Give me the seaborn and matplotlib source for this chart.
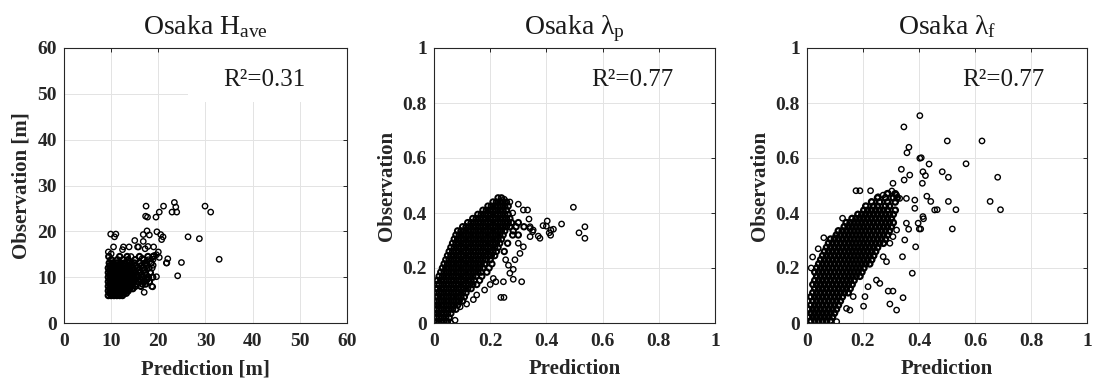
import numpy as np
import pandas as pd
import matplotlib
matplotlib.use("Agg")
import matplotlib.pyplot as plt
import seaborn as sns
from matplotlib.patches import Rectangle

# ---------------- data ----------------
titles = ["Osaka $\\mathregular{H_{ave}}$", "Osaka $\\mathregular{λ_p}$", "Osaka $\\mathregular{λ_f}$"]
r2_labels = ["R²=0.31", "R²=0.77", "R²=0.77"]
xlabels = ["Prediction [m]", "Prediction", "Prediction"]
ylabels = ["Observation [m]", "Observation", "Observation"]
h_ticks = [0, 10, 20, 30, 40, 50, 60]
h_ticklabels = ["0", "10", "20", "30", "40", "50", "60"]
l_ticks = [0, 0.2, 0.4, 0.6, 0.8, 1.0]
l_ticklabels = ["0", "0.2", "0.4", "0.6", "0.8", "1"]

# Panel 1 (H_ave): dense core, one observation level per row with its predictions
h_obs_levels = [6.0, 6.5, 7.0, 7.5, 8.0, 8.5, 9.0, 9.5, 10.0, 10.5, 11.0, 11.5, 12.0, 12.5, 13.1, 13.8, 14.5]
h_pred_rows = [
    [9.4, 10.0, 10.6, 11.2, 11.8, 12.4],
    [9.7, 10.3, 10.9, 11.5, 12.1, 12.7, 13.2],
    [9.4, 10.0, 10.6, 11.2, 11.8, 12.4, 13.0, 13.6],
    [9.7, 10.3, 10.9, 11.5, 12.1, 12.7, 13.3, 13.9, 14.6],
    [9.4, 10.0, 10.6, 11.2, 11.8, 12.4, 13.0, 13.6, 14.2, 15.1, 16.3],
    [9.7, 10.3, 10.9, 11.5, 12.1, 12.7, 13.3, 13.9, 14.5, 15.4, 16.6, 17.3],
    [9.4, 10.0, 10.6, 11.2, 11.8, 12.4, 13.0, 13.6, 14.2, 14.8, 15.8, 17.0, 18.1],
    [9.7, 10.3, 10.9, 11.5, 12.1, 12.7, 13.3, 13.9, 14.5, 15.2, 16.2, 17.6],
    [9.4, 10.0, 10.6, 11.2, 11.8, 12.4, 13.0, 13.6, 14.2, 14.8, 15.6, 16.7, 17.9, 18.8],
    [9.7, 10.3, 10.9, 11.5, 12.1, 12.7, 13.3, 13.9, 14.6, 15.5, 16.4, 17.4],
    [9.4, 10.0, 10.6, 11.2, 11.8, 12.4, 13.0, 13.6, 14.3, 15.1, 16.0, 17.2, 18.3],
    [9.7, 10.3, 10.9, 11.5, 12.1, 12.7, 13.3, 13.9, 14.8, 15.9, 17.0],
    [9.4, 10.0, 10.6, 11.2, 11.8, 12.4, 13.0, 13.7, 14.5, 15.6, 16.8, 18.0],
    [9.7, 10.3, 10.9, 11.5, 12.1, 12.8, 13.5, 14.3, 15.2, 16.4, 17.5],
    [9.6, 10.4, 11.2, 12.0, 12.9, 13.8, 14.9, 16.1, 17.3, 18.5],
    [10.0, 11.3, 12.5, 13.6, 15.1, 16.9],
    [9.5, 11.8, 13.4, 16.0, 17.8, 18.9],
]
h_out_pred = [17.4, 21.1, 23.4, 23.7, 22.9, 23.9, 20.2, 29.9, 31.1, 17.3, 17.7, 19.5, 26.3, 28.7,
              32.9, 24.9, 24.1, 9.9, 11.0, 10.7, 10.5, 9.4, 10.0, 19.7, 17.6, 18.1, 20.5, 21.0,
              16.8, 15.0, 16.8, 15.6, 17.8, 19.0, 20.0, 12.6, 13.8, 14.2, 12.4, 22.0, 21.7, 20.2,
              19.1, 16.6, 17.9, 18.7, 17.0, 18.8, 19.6, 15.8, 17.2, 19.6, 18.9, 17.5, 18.9, 18.6,
              21.8, 20.7]
h_out_obs = [25.5, 25.5, 26.3, 25.3, 24.2, 24.2, 24.2, 25.5, 24.2, 23.3, 23.1, 23.1, 18.8, 18.4,
             13.9, 13.2, 10.3, 19.4, 19.4, 18.8, 16.6, 15.5, 15.1, 19.9, 20.1, 19.2, 19.3, 18.8,
             19.3, 18.0, 17.8, 16.6, 16.7, 16.6, 15.5, 16.6, 16.6, 14.5, 16.0, 14.0, 13.1, 14.3,
             14.7, 14.1, 13.8, 12.0, 6.7, 7.9, 10.1, 16.6, 16.2, 14.9, 13.9, 13.1, 12.6, 8.0,
             13.1, 18.2]

# Panel 2 (lambda_p)
p_obs_levels = [0.005, 0.02, 0.035, 0.05, 0.065, 0.08, 0.095, 0.11, 0.125, 0.14, 0.155, 0.17, 0.185,
                0.2, 0.215, 0.23, 0.245, 0.26, 0.275, 0.29, 0.305, 0.32, 0.335, 0.35, 0.365, 0.38,
                0.395, 0.41, 0.425, 0.44, 0.455]
p_pred_rows = [
    [0.000, 0.012, 0.024, 0.036, 0.048],
    [0.006, 0.018, 0.030, 0.042, 0.054],
    [0.000, 0.012, 0.024, 0.036, 0.048, 0.060],
    [0.006, 0.018, 0.030, 0.042, 0.054, 0.066, 0.078],
    [0.000, 0.012, 0.024, 0.036, 0.048, 0.060, 0.072, 0.084],
    [0.006, 0.018, 0.030, 0.042, 0.054, 0.066, 0.078, 0.090, 0.102],
    [0.004, 0.012, 0.024, 0.036, 0.048, 0.060, 0.072, 0.084, 0.096, 0.108],
    [0.006, 0.018, 0.030, 0.042, 0.054, 0.066, 0.078, 0.090, 0.102, 0.114],
    [0.006, 0.012, 0.024, 0.036, 0.048, 0.060, 0.072, 0.084, 0.096, 0.108, 0.120, 0.132],
    [0.010, 0.018, 0.030, 0.042, 0.054, 0.066, 0.078, 0.090, 0.102, 0.114, 0.126, 0.138, 0.152],
    [0.012, 0.024, 0.036, 0.048, 0.060, 0.072, 0.084, 0.096, 0.108, 0.120, 0.132, 0.144, 0.162],
    [0.018, 0.030, 0.042, 0.054, 0.066, 0.078, 0.090, 0.102, 0.114, 0.126, 0.138, 0.150, 0.170],
    [0.024, 0.036, 0.048, 0.060, 0.072, 0.084, 0.096, 0.108, 0.120, 0.132, 0.144, 0.156, 0.168, 0.188],
    [0.030, 0.042, 0.054, 0.066, 0.078, 0.090, 0.102, 0.114, 0.126, 0.138, 0.150, 0.162, 0.174, 0.196],
    [0.036, 0.048, 0.060, 0.072, 0.084, 0.096, 0.108, 0.120, 0.132, 0.144, 0.156, 0.168, 0.180, 0.206],
    [0.042, 0.054, 0.066, 0.078, 0.090, 0.102, 0.114, 0.126, 0.138, 0.150, 0.162, 0.174, 0.186, 0.200],
    [0.048, 0.060, 0.072, 0.084, 0.096, 0.108, 0.120, 0.132, 0.144, 0.156, 0.168, 0.180, 0.192, 0.204, 0.216],
    [0.054, 0.066, 0.078, 0.090, 0.102, 0.114, 0.126, 0.138, 0.150, 0.162, 0.174, 0.186, 0.198, 0.210, 0.222, 0.250],
    [0.060, 0.072, 0.084, 0.096, 0.108, 0.120, 0.132, 0.144, 0.156, 0.168, 0.180, 0.192, 0.204, 0.216, 0.228],
    [0.066, 0.078, 0.090, 0.102, 0.114, 0.126, 0.138, 0.150, 0.162, 0.174, 0.186, 0.198, 0.210, 0.222, 0.234, 0.262],
    [0.072, 0.084, 0.096, 0.108, 0.120, 0.132, 0.144, 0.156, 0.168, 0.180, 0.192, 0.204, 0.216, 0.228, 0.240],
    [0.078, 0.090, 0.102, 0.114, 0.126, 0.138, 0.150, 0.162, 0.174, 0.186, 0.198, 0.210, 0.222, 0.234, 0.246, 0.280, 0.300],
    [0.084, 0.096, 0.108, 0.120, 0.132, 0.144, 0.156, 0.168, 0.180, 0.192, 0.204, 0.216, 0.228, 0.240, 0.252, 0.282],
    [0.102, 0.114, 0.126, 0.138, 0.150, 0.162, 0.174, 0.186, 0.198, 0.210, 0.222, 0.234, 0.246, 0.258, 0.270, 0.292, 0.320],
    [0.120, 0.132, 0.144, 0.156, 0.168, 0.180, 0.192, 0.204, 0.216, 0.228, 0.240, 0.252, 0.264, 0.276, 0.300],
    [0.138, 0.150, 0.162, 0.174, 0.186, 0.198, 0.210, 0.222, 0.234, 0.246, 0.258, 0.270],
    [0.156, 0.168, 0.180, 0.192, 0.204, 0.216, 0.228, 0.240, 0.252, 0.264],
    [0.174, 0.186, 0.198, 0.210, 0.222, 0.234, 0.246, 0.258],
    [0.192, 0.204, 0.216, 0.228, 0.240, 0.252, 0.264],
    [0.210, 0.222, 0.234, 0.246, 0.258],
    [0.228, 0.240],
]
p_out_pred = [0.496, 0.537, 0.537, 0.516, 0.454, 0.403, 0.416, 0.425, 0.410, 0.415, 0.377, 0.342,
              0.353, 0.371, 0.300, 0.318, 0.333, 0.338, 0.342, 0.351, 0.342, 0.318, 0.306, 0.288,
              0.282, 0.270, 0.312, 0.282, 0.247, 0.211, 0.238, 0.249, 0.152, 0.116, 0.093, 0.388,
              0.400, 0.008, 0.075, 0.060, 0.265, 0.255, 0.220, 0.200, 0.180, 0.140, 0.300, 0.280,
              0.270, 0.250]
p_out_obs = [0.421, 0.350, 0.308, 0.328, 0.360, 0.371, 0.338, 0.341, 0.328, 0.319, 0.308, 0.350,
             0.338, 0.316, 0.432, 0.411, 0.411, 0.378, 0.344, 0.332, 0.314, 0.277, 0.253, 0.230,
             0.195, 0.181, 0.150, 0.159, 0.150, 0.162, 0.093, 0.093, 0.102, 0.069, 0.059, 0.354,
             0.352, 0.152, 0.010, 0.000, 0.210, 0.230, 0.150, 0.140, 0.120, 0.085, 0.290, 0.400,
             0.440, 0.450]

# Panel 3 (lambda_f)
f_obs_levels = [0.008, 0.022, 0.036, 0.05, 0.065, 0.08, 0.095, 0.11, 0.125, 0.14, 0.155, 0.17, 0.185,
                0.2, 0.215, 0.23, 0.245, 0.26, 0.275, 0.29, 0.305, 0.32, 0.335, 0.35, 0.365, 0.38,
                0.395, 0.41, 0.425, 0.44, 0.455, 0.47]
f_pred_rows = [
    [0.014, 0.028, 0.042, 0.056, 0.070, 0.084],
    [0.007, 0.021, 0.035, 0.049, 0.063, 0.077, 0.091],
    [0.014, 0.028, 0.042, 0.056, 0.070, 0.084, 0.098],
    [0.007, 0.021, 0.035, 0.049, 0.063, 0.077, 0.091, 0.105],
    [0.014, 0.028, 0.042, 0.056, 0.070, 0.084, 0.098, 0.112],
    [0.021, 0.035, 0.049, 0.063, 0.077, 0.091, 0.105, 0.119],
    [0.014, 0.028, 0.042, 0.056, 0.070, 0.084, 0.098, 0.112, 0.126],
    [0.021, 0.035, 0.049, 0.063, 0.077, 0.091, 0.105, 0.119, 0.133, 0.147],
    [0.028, 0.042, 0.056, 0.070, 0.084, 0.098, 0.112, 0.126, 0.140, 0.154],
    [0.021, 0.035, 0.049, 0.063, 0.077, 0.091, 0.105, 0.119, 0.133, 0.147, 0.161],
    [0.028, 0.042, 0.056, 0.070, 0.084, 0.098, 0.112, 0.126, 0.140, 0.154, 0.168],
    [0.035, 0.049, 0.063, 0.077, 0.091, 0.105, 0.119, 0.133, 0.147, 0.161, 0.175, 0.189],
    [0.028, 0.042, 0.056, 0.070, 0.084, 0.098, 0.112, 0.126, 0.140, 0.154, 0.168, 0.182, 0.196],
    [0.035, 0.049, 0.063, 0.077, 0.091, 0.105, 0.119, 0.133, 0.147, 0.161, 0.175, 0.189, 0.203],
    [0.042, 0.056, 0.070, 0.084, 0.098, 0.112, 0.126, 0.140, 0.154, 0.168, 0.182, 0.196, 0.210, 0.224],
    [0.049, 0.063, 0.077, 0.091, 0.105, 0.119, 0.133, 0.147, 0.161, 0.175, 0.189, 0.203, 0.217, 0.231],
    [0.056, 0.070, 0.084, 0.098, 0.112, 0.126, 0.140, 0.154, 0.168, 0.182, 0.196, 0.210, 0.224, 0.238],
    [0.063, 0.077, 0.091, 0.105, 0.119, 0.133, 0.147, 0.161, 0.175, 0.189, 0.203, 0.217, 0.231, 0.245],
    [0.070, 0.084, 0.098, 0.112, 0.126, 0.140, 0.154, 0.168, 0.182, 0.196, 0.210, 0.224, 0.238, 0.252],
    [0.077, 0.091, 0.105, 0.119, 0.133, 0.147, 0.161, 0.175, 0.189, 0.203, 0.217, 0.231, 0.245, 0.259, 0.273],
    [0.084, 0.098, 0.112, 0.126, 0.140, 0.154, 0.168, 0.182, 0.196, 0.210, 0.224, 0.238, 0.252, 0.266, 0.280],
    [0.105, 0.119, 0.133, 0.147, 0.161, 0.175, 0.189, 0.203, 0.217, 0.231, 0.245, 0.259, 0.273, 0.287],
    [0.112, 0.126, 0.140, 0.154, 0.168, 0.182, 0.196, 0.210, 0.224, 0.238, 0.252, 0.266, 0.280, 0.294],
    [0.133, 0.147, 0.161, 0.175, 0.189, 0.203, 0.217, 0.231, 0.245, 0.259, 0.273, 0.287, 0.301],
    [0.140, 0.154, 0.168, 0.182, 0.196, 0.210, 0.224, 0.238, 0.252, 0.266, 0.280, 0.294, 0.308],
    [0.161, 0.175, 0.189, 0.203, 0.217, 0.231, 0.245, 0.259, 0.273, 0.287, 0.301],
    [0.182, 0.196, 0.210, 0.224, 0.238, 0.252, 0.266, 0.280, 0.294, 0.308],
    [0.203, 0.217, 0.231, 0.245, 0.259, 0.273, 0.287, 0.315],
    [0.210, 0.238, 0.252, 0.280, 0.294],
    [0.231, 0.259, 0.287, 0.315],
    [0.252, 0.280, 0.308, 0.322],
    [0.287, 0.315],
]
f_out_pred = [0.403, 0.346, 0.364, 0.357, 0.501, 0.625, 0.403, 0.408, 0.436, 0.568, 0.337, 0.367,
              0.347, 0.414, 0.423, 0.412, 0.483, 0.505, 0.681, 0.505, 0.654, 0.532, 0.691, 0.519,
              0.428, 0.442, 0.456, 0.465, 0.385, 0.397, 0.414, 0.355, 0.363, 0.349, 0.388, 0.341,
              0.376, 0.290, 0.307, 0.343, 0.296, 0.320, 0.202, 0.175, 0.189, 0.227, 0.127, 0.307,
              0.303, 0.320, 0.331, 0.355, 0.385, 0.230, 0.254, 0.272, 0.290, 0.296, 0.307, 0.320,
              0.272, 0.284, 0.248, 0.260, 0.218, 0.207, 0.165, 0.153, 0.141, 0.106, 0.015, 0.020,
              0.040, 0.060, 0.100, 0.401, 0.406, 0.416]
f_out_obs = [0.754, 0.713, 0.639, 0.619, 0.662, 0.662, 0.599, 0.601, 0.578, 0.579, 0.559, 0.538,
             0.520, 0.550, 0.536, 0.508, 0.550, 0.530, 0.530, 0.442, 0.442, 0.412, 0.412, 0.342,
             0.461, 0.442, 0.411, 0.412, 0.417, 0.363, 0.387, 0.363, 0.341, 0.302, 0.277, 0.241,
             0.181, 0.116, 0.116, 0.092, 0.069, 0.047, 0.061, 0.481, 0.481, 0.481, 0.381, 0.508,
             0.480, 0.465, 0.453, 0.453, 0.447, 0.441, 0.459, 0.465, 0.472, 0.290, 0.314, 0.338,
             0.241, 0.223, 0.156, 0.144, 0.132, 0.096, 0.096, 0.047, 0.053, 0.005, 0.200, 0.240,
             0.270, 0.310, 0.310, 0.342, 0.342, 0.379]


def core_table(levels, rows):
    pred = [x for row in rows for x in row]
    obs = [lvl for lvl, row in zip(levels, rows) for _ in row]
    return pd.DataFrame({"Prediction": pred, "Observation": obs})


def outlier_table(out_pred, out_obs):
    return pd.DataFrame({"Prediction": list(out_pred), "Observation": list(out_obs)})


cores = [
    core_table(h_obs_levels, h_pred_rows),
    core_table(p_obs_levels, p_pred_rows),
    core_table(f_obs_levels, f_pred_rows),
]
outliers = [
    outlier_table(h_out_pred, h_out_obs),
    outlier_table(p_out_pred, p_out_obs),
    outlier_table(f_out_pred, f_out_obs),
]
core_lw = [1.5, 1.45, 1.65]

# ---------------- style ----------------
sns.set_style("white")
plt.rcParams["font.family"] = ["Liberation Serif", "DejaVu Serif"]
plt.rcParams["mathtext.fontset"] = "custom"
plt.rcParams["mathtext.rm"] = "Liberation Serif"
plt.rcParams["mathtext.it"] = "Liberation Serif:italic"
plt.rcParams["mathtext.bf"] = "Liberation Serif:bold"

fig = plt.figure(figsize=(10.96, 3.83), dpi=100)
fig.patch.set_facecolor("white")

ax_rects = [
    [64 / 1096, 1 - 323 / 383, 283 / 1096, 275 / 383],
    [434 / 1096, 1 - 323 / 383, 281 / 1096, 275 / 383],
    [807 / 1096, 1 - 323 / 383, 280 / 1096, 275 / 383],
]
r2_x = [0.562, 0.561, 0.555]

for i, rect in enumerate(ax_rects):
    ax = fig.add_axes(rect)
    ax.set_facecolor("white")
    ax.set_axisbelow(True)
    ax.grid(True, color="#e3e3e3", linewidth=0.7, zorder=0)
    sns.scatterplot(data=outliers[i], x="Prediction", y="Observation", ax=ax, marker="o", s=15,
                    facecolor="none", edgecolor="black", linewidth=1.0, zorder=3, legend=False)
    sns.scatterplot(data=cores[i], x="Prediction", y="Observation", ax=ax, marker="o", s=15,
                    facecolor="none", edgecolor="black", linewidth=core_lw[i], zorder=3, legend=False)
    if i == 0:
        ax.set_xlim(0, 60)
        ax.set_ylim(0, 60)
        ax.set_xticks(h_ticks)
        ax.set_xticklabels(h_ticklabels)
        ax.set_yticks(h_ticks)
        ax.set_yticklabels(h_ticklabels)
        ax.add_patch(Rectangle((0.438, 0.804), 0.562, 0.196, transform=ax.transAxes,
                               facecolor="white", edgecolor="none", zorder=1))
    else:
        ax.set_xlim(0, 1)
        ax.set_ylim(0, 1)
        ax.set_xticks(l_ticks)
        ax.set_xticklabels(l_ticklabels)
        ax.set_yticks(l_ticks)
        ax.set_yticklabels(l_ticklabels)
    for sp in ax.spines.values():
        sp.set_visible(True)
        sp.set_color("#262626")
        sp.set_linewidth(0.8)
        sp.set_zorder(5)
    ax.tick_params(direction="in", length=3, width=0.7, top=True, right=True,
                   labelsize=14, colors="#262626", labelcolor="#262626")
    ax.tick_params(axis="x", pad=7)
    ax.tick_params(axis="y", pad=5)
    for lab in ax.get_xticklabels() + ax.get_yticklabels():
        lab.set_fontweight("bold")
    ax.set_xlabel(xlabels[i], fontsize=15, fontweight="bold", color="#262626", labelpad=7)
    ax.set_ylabel(ylabels[i], fontsize=15, fontweight="bold", color="#262626", labelpad=4)
    ax.set_title(titles[i], fontsize=20, pad=10, color="#1a1a1a")
    ax.text(r2_x[i], 0.884, r2_labels[i], transform=ax.transAxes, fontsize=18,
            ha="left", va="center", color="#1a1a1a", zorder=6)

fig.savefig("out.png", dpi=100, facecolor="white")
